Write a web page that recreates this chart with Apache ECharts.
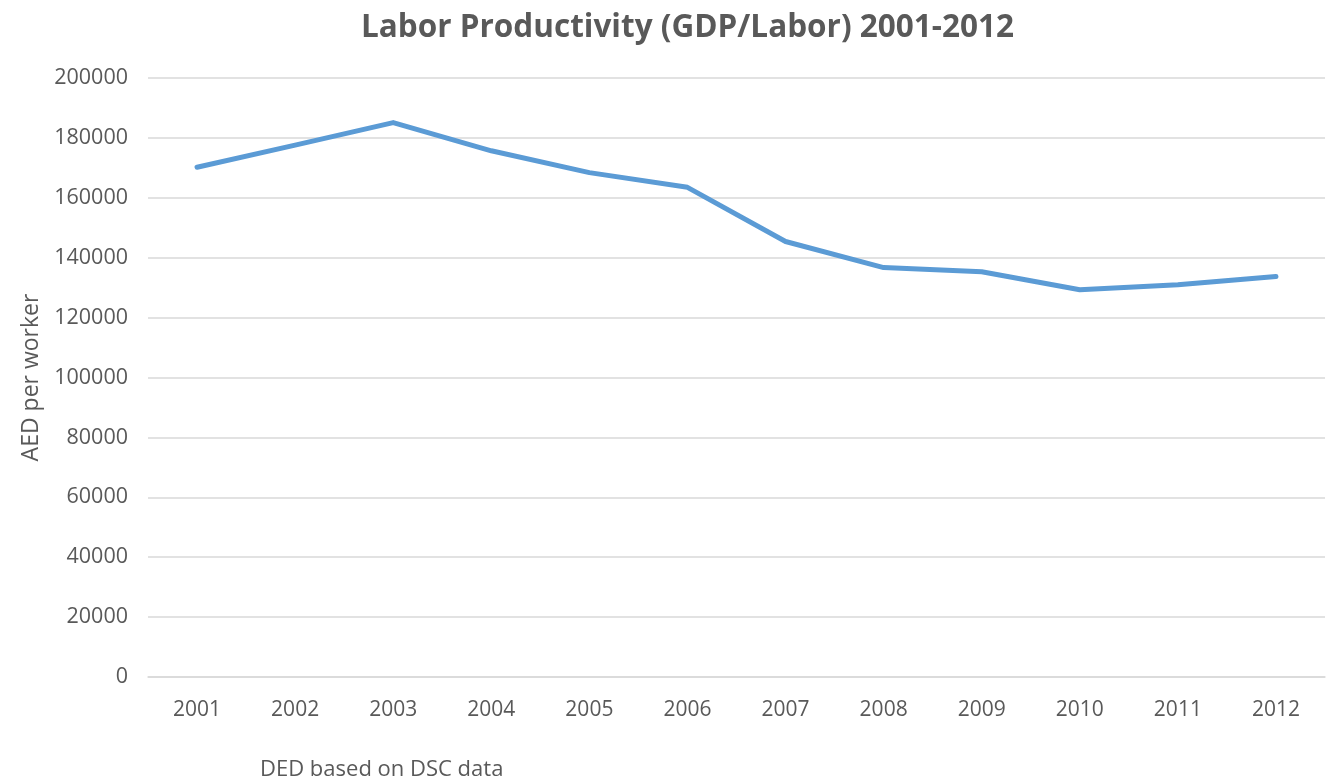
<!DOCTYPE html>
<html><head><meta charset="utf-8">
<script src="https://cdn.jsdelivr.net/npm/echarts@6/dist/echarts.min.js"></script>
<style>html,body{margin:0;padding:0;background:#fff}#c{width:1326px;height:779px}</style>
</head><body><div id="c"></div>
<script>
const years = ['2001','2002','2003','2004','2005','2006','2007','2008','2009','2010','2011','2012'];
const productivity = [170200, 177600, 185100, 175700, 168400, 163500, 145400, 136700, 135300, 129300, 131000, 133700];
const yTicks = { min: 0, max: 200000, interval: 20000 };

const chart = echarts.init(document.getElementById('c'));
const font = '"Open Sans", "Noto Sans", sans-serif';
chart.setOption({
  backgroundColor: '#fff',
  animation: false,
  title: [{
    text: 'Labor Productivity (GDP/Labor) 2001-2012',
    left: 356, top: 7,
    textStyle: { fontFamily: font, fontSize: 31.5, fontWeight: 'bold', color: '#595959' }
  }, {
    text: 'DED based on DSC data',
    left: 255, top: 754,
    textStyle: { fontFamily: font, fontSize: 22, fontWeight: 'normal', color: '#595959' }
  }],
  grid: { left: 148, right: 1, top: 78, bottom: 102, containLabel: false },
  xAxis: {
    type: 'category', data: years, boundaryGap: true,
    axisLine: { show: true, lineStyle: { color: '#D9D9D9', width: 1.5 } },
    axisTick: { show: false },
    axisLabel: { fontFamily: font, fontSize: 21, color: '#595959', margin: 23 }
  },
  yAxis: {
    type: 'value', min: yTicks.min, max: yTicks.max, interval: yTicks.interval,
    name: 'AED per worker', nameLocation: 'middle', nameGap: 103, nameRotate: 90,
    nameTextStyle: { fontFamily: font, fontSize: 23, color: '#595959' },
    axisLine: { show: false }, axisTick: { show: false },
    splitLine: { lineStyle: { color: '#D9D9D9', width: 1.5 } },
    axisLabel: { fontFamily: font, fontSize: 21.5, color: '#595959', margin: 20, formatter: v => String(v) }
  },
  series: [{
    type: 'line', data: productivity, showSymbol: false, symbol: 'none',
    lineStyle: { color: '#5B9BD5', width: 5, cap: 'round', join: 'round' }
  }]
});
</script></body></html>
